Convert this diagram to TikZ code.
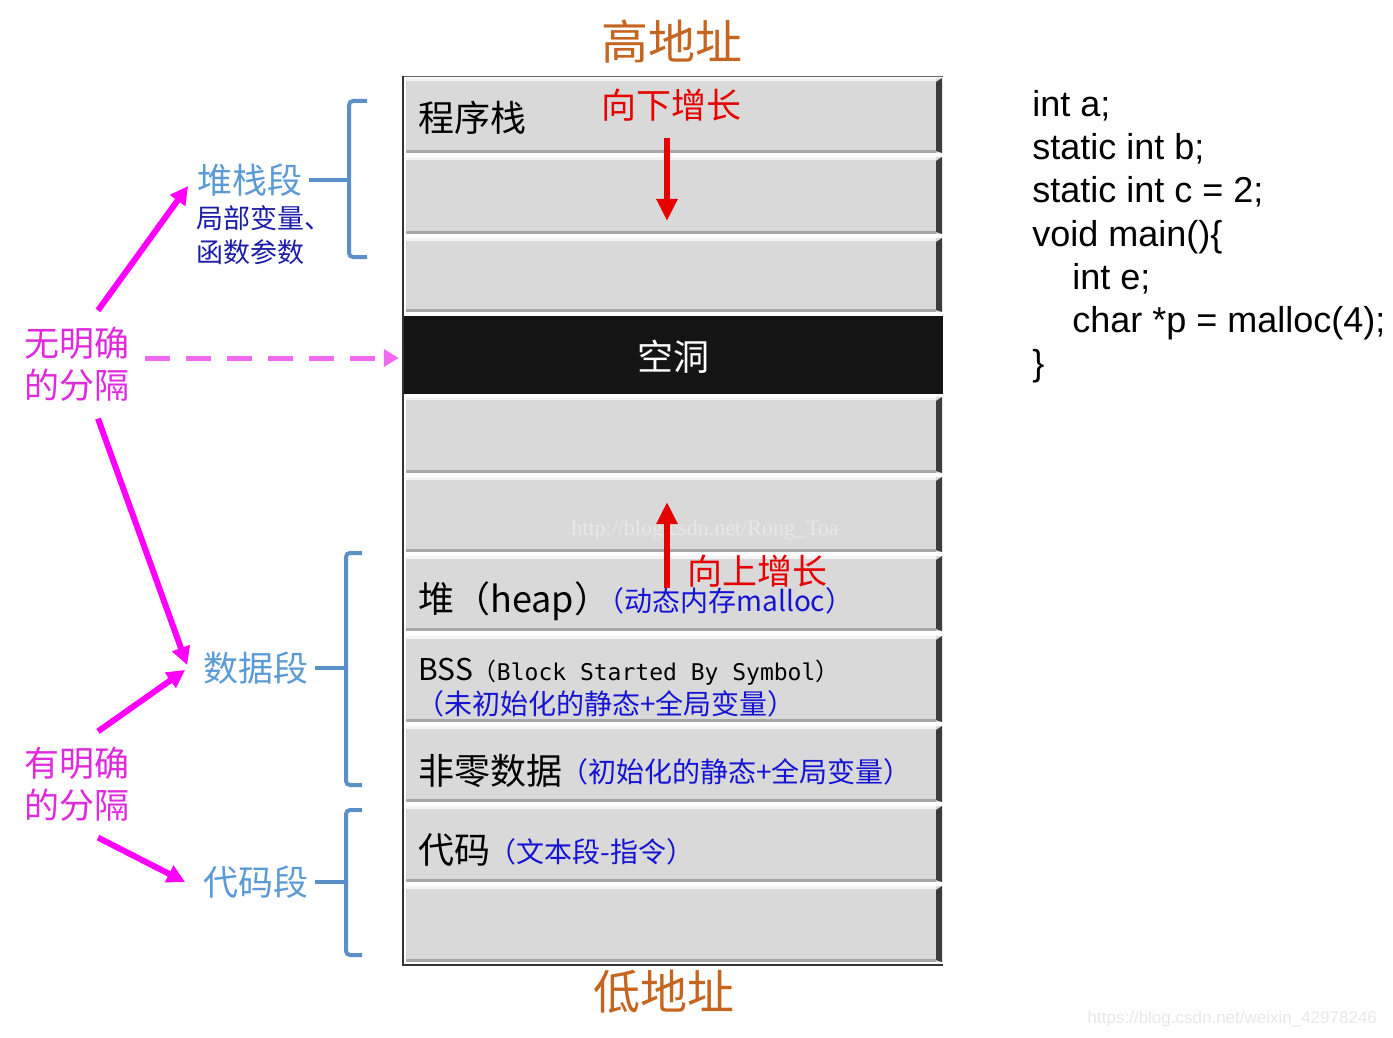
\documentclass[tikz,border=0pt]{standalone}
\usepackage{fontspec}
\setmainfont{Liberation Sans}
\newfontfamily\cjk{Noto Sans CJK SC}
\newfontfamily\codefont{Liberation Sans}
\newfontfamily\monofont{DejaVu Sans Mono}
\newfontfamily\wmfont{Liberation Serif}
\usetikzlibrary{arrows.meta,calc}
\definecolor{rowgray}{HTML}{D9D9D9}
\definecolor{rowhi}{HTML}{F4F4F4}
\definecolor{rowlo}{HTML}{A8A8A8}
\definecolor{rowedge}{HTML}{3C3C3C}
\definecolor{holeblack}{HTML}{141414}
\definecolor{addrorange}{HTML}{C5651F}
\definecolor{growred}{HTML}{E60000}
\definecolor{segblue}{HTML}{5B9BD5}
\definecolor{brblue}{HTML}{5B8FC8}
\definecolor{descblue}{HTML}{1C1CA8}
\definecolor{noteblue}{HTML}{1414D2}
\definecolor{mag}{HTML}{FF00FF}
\definecolor{magtext}{HTML}{E02ADE}
\definecolor{magdash}{HTML}{F26AF2}
\tikzset{
  rowbox/.style={rectangle, inner sep=0pt, outer sep=0pt, minimum width=268pt, fill=rowgray,
    path picture={
      \fill[rowhi] (path picture bounding box.north west) rectangle ([xshift=-3pt,yshift=-1.5pt]path picture bounding box.north east);
      \fill[rowlo] ([yshift=1.5pt]path picture bounding box.south west) rectangle ([xshift=-3pt]path picture bounding box.south east);
      \fill[rowedge] ([xshift=-3pt,yshift=-2pt]path picture bounding box.north east) -- (path picture bounding box.north east) -- (path picture bounding box.south east) -- ([xshift=-3pt,yshift=1pt]path picture bounding box.south east) -- cycle;
    }},
  holebox/.style={rectangle, inner sep=0pt, outer sep=0pt, minimum width=268pt, fill=holeblack},
  rowtext/.style={anchor=base west, inner sep=0pt, font=\cjk\fontsize{18}{21}\selectfont, text=black},
  notetext/.style={anchor=base west, inner sep=0pt, font=\cjk\fontsize{14}{17}\selectfont, text=noteblue},
  addr/.style={font=\cjk\fontsize{23.5}{27}\selectfont, text=addrorange},
  growlabel/.style={font=\cjk\fontsize{17.5}{21}\selectfont, text=growred},
  redarrow/.style={draw=growred, line width=3pt, -{Triangle[width=10pt,length=11pt]}},
  seglabel/.style={font=\cjk\fontsize{17.5}{21}\selectfont, text=segblue, inner sep=3pt},
  bracket/.style={draw=brblue, line width=2pt, rounded corners=2pt},
  maglabel/.style={font=\cjk\fontsize{17.5}{21}\selectfont, text=magtext, align=center, inner sep=5pt},
  magarrow/.style={draw=mag, line width=3pt, -{Triangle[width=9pt,length=9pt]}},
  dasharrow/.style={draw=magdash, line width=2.5pt, dash pattern=on 12.5pt off 8pt, -{Triangle[width=8.5pt,length=7.5pt]}},
  codeline/.style={anchor=base west, inner sep=0pt, font=\codefont\fontsize{18}{21}\selectfont}
}
\begin{document}
\begin{tikzpicture}[x=0.5pt,y=-0.5pt]
\fill[white] (0,0) rectangle (1393,1038);
\useasboundingbox (0,0) rectangle (1393,1038);

% memory column
\draw[black!60, line width=0.4pt] (943,76) -- (403,76);
\draw[black!80, line width=0.7pt] (403,76) -- (403,965) -- (943,965);
\node[rowbox, minimum height=37.5pt] (r1) at (674,115.5) {};
\node[rowbox, minimum height=38.5pt] (r2) at (674,195.5) {};
\node[rowbox, minimum height=37pt] (r3) at (674,275) {};
\node[holebox, minimum height=39pt, minimum width=269.5pt] (r4) at (673.25,355) {};
\node[rowbox, minimum height=38pt] (r5) at (674,435) {};
\node[rowbox, minimum height=37.5pt] (r6) at (674,514.5) {};
\node[rowbox, minimum height=37.5pt] (r7) at (674,593.5) {};
\node[rowbox, minimum height=43pt] (r8) at (674,679) {};
\node[rowbox, minimum height=38pt] (r9) at (674,764) {};
\node[rowbox, minimum height=38pt] (r10) at (674,844) {};
\node[rowbox, minimum height=38pt] (r11) at (674,924) {};

% watermark inside
\node[font=\wmfont\fontsize{11}{13}\selectfont, text=white!91!black] (wm1) at (705,530) {http://blog.csdn.net/Rong\_Toa};

% row texts
\node[rowtext] (t1) at (418,132) {程序栈};
\node[font=\cjk\fontsize{18}{21}\selectfont, text=white] (t4) at (673,357) {空洞};
\node[rowtext] (t7) at (418,612) {堆（heap）};
\node[notetext] (n7) at (596,611) {（动态内存malloc）};
\node[rowtext] (t8) at (418,680) {{\fontsize{15}{18}\selectfont BSS}{\fontsize{12}{14}\selectfont （{\monofont\fontsize{11.5}{14}\selectfont Block Started By Symbol}）}};
\node[notetext] (n8) at (416,714) {（未初始化的静态+全局变量）};
\node[rowtext] (t9) at (418,784) {非零数据};
\node[notetext] (n9) at (560,782) {（初始化的静态+全局变量）};
\node[rowtext] (t10) at (418,863) {代码};
\node[notetext] (n10) at (488,862) {（文本段-指令）};

% addresses
\node[addr] (high) at (672,42) {高地址};
\node[addr] (low) at (664,992) {低地址};

% growth
\node[growlabel] (down) at (671,105) {向下增长};
\coordinate (dtop) at (667,138);
\coordinate (dbot) at (667,221);
\draw[redarrow] (dtop) -- (dbot);
\node[growlabel] (up) at (757,571) {向上增长};
\coordinate (ubot) at (667,588);
\coordinate (utop) at (667,502);
\draw[redarrow] (ubot) -- (utop);

% segment labels
\node[seglabel] (stk) at (250,180) {堆栈段};
\node[anchor=west, inner sep=0pt, align=left, font=\cjk\fontsize{13.5}{17}\selectfont, text=descblue] (stkdesc) at (196,235) {局部变量、\\函数参数};
\node[seglabel] (dat) at (256,668) {数据段};
\node[seglabel] (code) at (256,882) {代码段};

% brackets
\draw[bracket] (367,101) -- (349,101) -- (349,257) -- (367,257);
\draw[bracket] (stk.east) -- (349,180);
\draw[bracket] (362,553) -- (346,553) -- (346,785) -- (362,785);
\draw[bracket] (dat.east) -- (346,668);
\draw[bracket] (362,810) -- (346,810) -- (346,955) -- (362,955);
\draw[bracket] (code.east) -- (346,882);

% magenta labels and arrows
\node[maglabel] (nb) at (77,364) {无明确\\的分隔};
\node[maglabel] (yb) at (77,784) {有明确\\的分隔};
\draw[magarrow] ($(nb.north)+(21,-6)$) -- ($(stk.west)+(-3,6)$);
\draw[magarrow] ($(nb.south)+(21,7)$) -- ($(dat.west)+(-10,-3)$);
\draw[magarrow] ($(yb.north)+(21,-5)$) -- ($(dat.west)+(-12,2)$);
\draw[magarrow] ($(yb.south)+(21,6)$) -- ($(code.west)+(-12,0)$);
\draw[dasharrow] ($(nb.east)+(5,-6)$) -- ($(r4.west)+(-5,3)$);

% code
\node[codeline] (c1) at (1032,117) {int a;};
\node[codeline] (c2) at (1032,160) {static int b;};
\node[codeline] (c3) at (1032,203) {static int c = 2;};
\node[codeline] (c4) at (1032,246) {void main()\{};
\node[codeline] (c5) at (1072,289) {int e;};
\node[codeline] (c6) at (1072,332) {char *p = malloc(4);};
\node[codeline] (c7) at (1032,375) {\}};

% bottom watermark
\node[anchor=east, font=\codefont\fontsize{8.5}{10}\selectfont, text=black!9] (wm2) at (1384,1019) {https://blog.csdn.net/weixin\_42978246};
\end{tikzpicture}
\end{document}
